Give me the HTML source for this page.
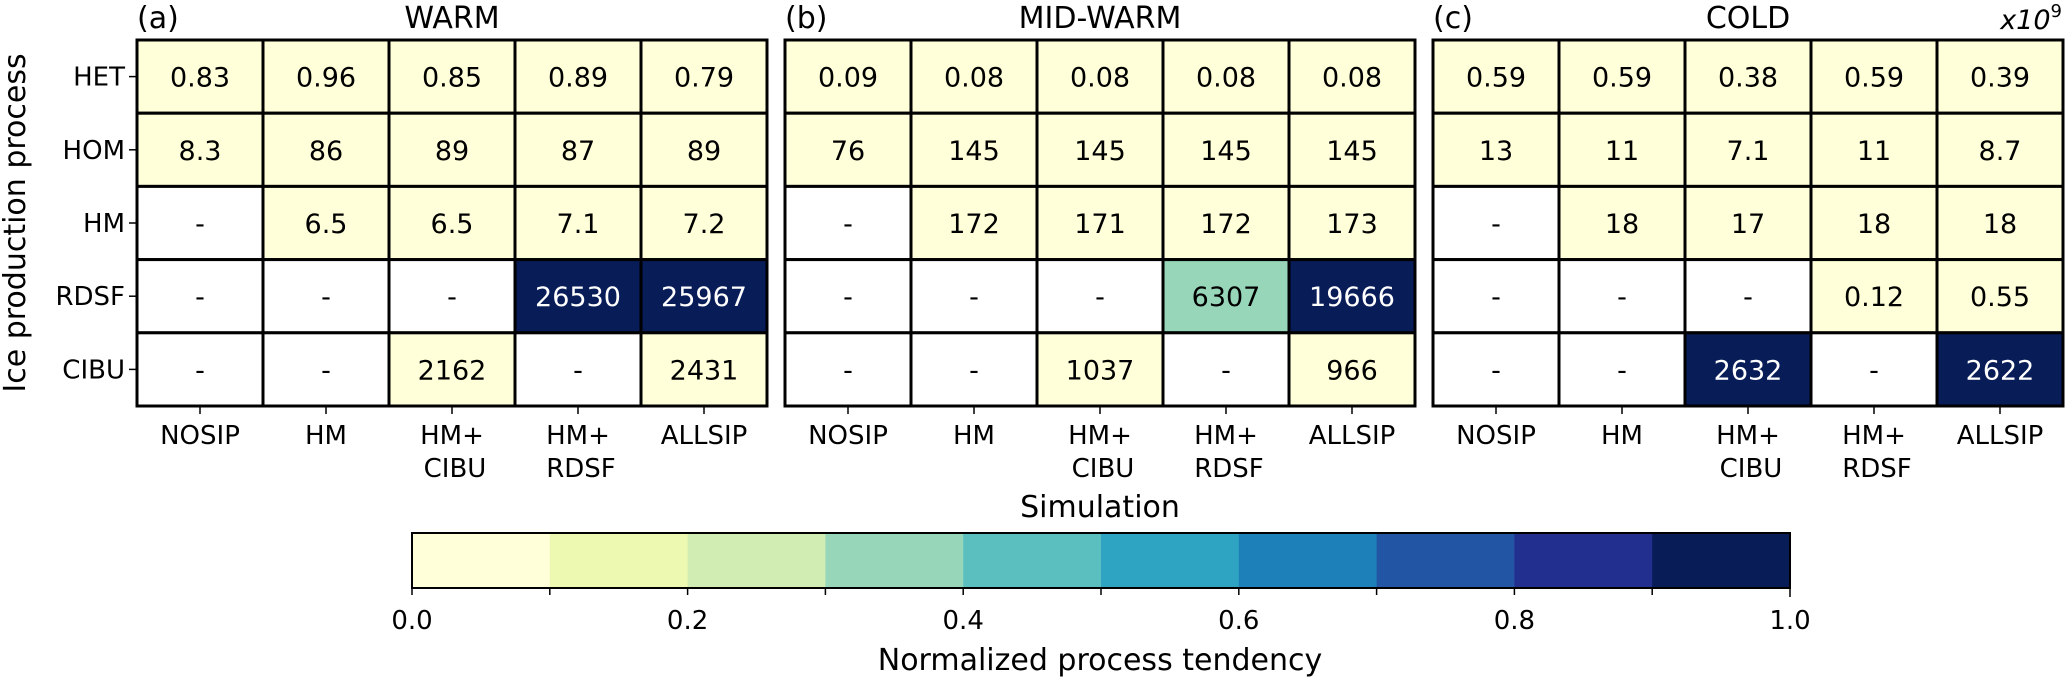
<!DOCTYPE html>
<html><head><meta charset="utf-8"><style>
html,body{margin:0;padding:0;background:#fff;}
svg{display:block;font-family:"DejaVu Sans","Liberation Sans",sans-serif;}
</style></head><body>
<svg id="fig" width="2067" height="678" viewBox="0 0 2067 678" xmlns="http://www.w3.org/2000/svg"></svg>
<script>
const processes = ["HET","HOM","HM","RDSF","CIBU"];
const simulations = [["NOSIP"],["HM"],["HM+","CIBU"],["HM+","RDSF"],["ALLSIP"]];
const panelTitles = ["WARM","MID-WARM","COLD"];
const panelLetters = ["(a)","(b)","(c)"];
const warmValues = [
  [0.83,0.96,0.85,0.89,0.79],
  [8.3,86,89,87,89],
  [null,6.5,6.5,7.1,7.2],
  [null,null,null,26530,25967],
  [null,null,2162,null,2431]
];
const midWarmValues = [
  [0.09,0.08,0.08,0.08,0.08],
  [76,145,145,145,145],
  [null,172,171,172,173],
  [null,null,null,6307,19666],
  [null,null,1037,null,966]
];
const coldValues = [
  [0.59,0.59,0.38,0.59,0.39],
  [13,11,7.1,11,8.7],
  [null,18,17,18,18],
  [null,null,null,0.12,0.55],
  [null,null,2632,null,2622]
];
const colorbarTicks = [0.0,0.2,0.4,0.6,0.8,1.0];
const binColors = ["#ffffd9","#edf8b1","#d1edb3","#97d6b9","#5bbfc0","#2fa3c2","#1d80b8","#2256a4","#232f8f","#081d58"];

const NS="http://www.w3.org/2000/svg";
const svgRoot=document.getElementById('fig');
function mk(tag,attrs,parent){const e=document.createElementNS(NS,tag);for(const k in attrs)e.setAttribute(k,attrs[k]);(parent||svgRoot).appendChild(e);return e;}
function fmt(v){return String(v);}

const panelX=[137,785,1433], panelW=630, gridTop=40, gridBottom=406;
const nC=simulations.length, nR=processes.length;
const allPanels=[warmValues,midWarmValues,coldValues];

allPanels.forEach((vals,p)=>{
  const x0=panelX[p], cw=panelW/nC, rh=(gridBottom-gridTop)/nR;
  const xs=c=>x0+c*cw, ys=r=>gridTop+r*rh;
  let mx=0; vals.forEach(r=>r.forEach(v=>{if(v!=null&&v>mx)mx=v;}));
  const g=mk('g',{});
  
  
  vals.forEach((row,r)=>row.forEach((v,c)=>{
    let fill="#ffffff", txtCol="#000";
    if(v!=null){const n=v/mx;let b=Math.min(9,Math.floor(n*10));fill=binColors[b];if(b>=6)txtCol="#fff";}
    const rect=mk('rect',{x:xs(c),y:ys(r),width:cw,height:rh,fill:fill,stroke:"#000","stroke-width":3},g);
    
    
    const t=mk('text',{x:xs(c)+cw/2,y:ys(r)+rh/2+10,"text-anchor":"middle","font-size":27,fill:txtCol},g);
    t.textContent=v==null?"-":fmt(v);
    
    
  }));
  mk('rect',{x:x0,y:gridTop,width:panelW,height:gridBottom-gridTop,fill:"none",stroke:"#000","stroke-width":3},g);
  simulations.forEach((s,c)=>{
    const cx=xs(c)+cw/2;
    mk('line',{x1:cx,y1:gridBottom,x2:cx,y2:gridBottom+8,stroke:"#000","stroke-width":1.5},g);
    s.forEach((ln,i)=>{
      const t=mk('text',{x:cx+(i>0?3:0),y:444+i*33,"text-anchor":"middle","font-size":26},g);
      t.textContent=ln;
      
      
    });
  });
  const tl=mk('text',{x:x0,y:28,"font-size":30},g);tl.textContent=panelLetters[p];
  
  
  const tt=mk('text',{x:x0+panelW/2,y:28,"text-anchor":"middle","font-size":30},g);tt.textContent=panelTitles[p];
  
  
  if(p===0){
    processes.forEach((pr,r)=>{
      const cy=ys(r)+rh/2;
      mk('line',{x1:x0-8,y1:cy,x2:x0,y2:cy,stroke:"#000","stroke-width":1.5},g);
      const t=mk('text',{x:x0-12,y:cy+9,"text-anchor":"end","font-size":26},g);t.textContent=pr;
      
      
    });
  }
});
const mult=mk('text',{x:2062,y:29,"text-anchor":"end","font-size":27,"font-style":"italic"});
mult.textContent='x10';
const sup=mk('tspan',{dy:"-12","font-size":18,"font-style":"normal"},mult);
sup.textContent='9';


const yl=mk('text',{x:0,y:0,transform:"translate(25,223) rotate(-90)","text-anchor":"middle","font-size":30});
yl.textContent="Ice production process";


const xl=mk('text',{x:1100,y:517,"text-anchor":"middle","font-size":30});
xl.textContent="Simulation";


const cbL=412,cbR=1790,cbT=533,cbB=588;
const cbx=v=>cbL+v*(cbR-cbL);
const cb=mk('g',{});


binColors.forEach((col,i)=>{
  mk('rect',{x:cbx(i/10),y:cbT,width:(cbR-cbL)/10+0.5,height:cbB-cbT,fill:col},cb);
  mk('line',{x1:cbx(i/10),y1:cbB,x2:cbx(i/10),y2:cbB+7,stroke:"#000","stroke-width":1.5},cb);
});
mk('line',{x1:cbR,y1:cbB,x2:cbR,y2:cbB+9,stroke:"#000","stroke-width":1.5},cb);
mk('rect',{x:cbL,y:cbT,width:cbR-cbL,height:cbB-cbT,fill:"none",stroke:"#000","stroke-width":2},cb);
colorbarTicks.forEach(v=>{
  const t=mk('text',{x:cbx(v),y:629,"text-anchor":"middle","font-size":26},cb);
  t.textContent=v.toFixed(1);
  
  
});
const cbl=mk('text',{x:1100,y:670,"text-anchor":"middle","font-size":30});
cbl.textContent="Normalized process tendency";


</script>
</body></html>
